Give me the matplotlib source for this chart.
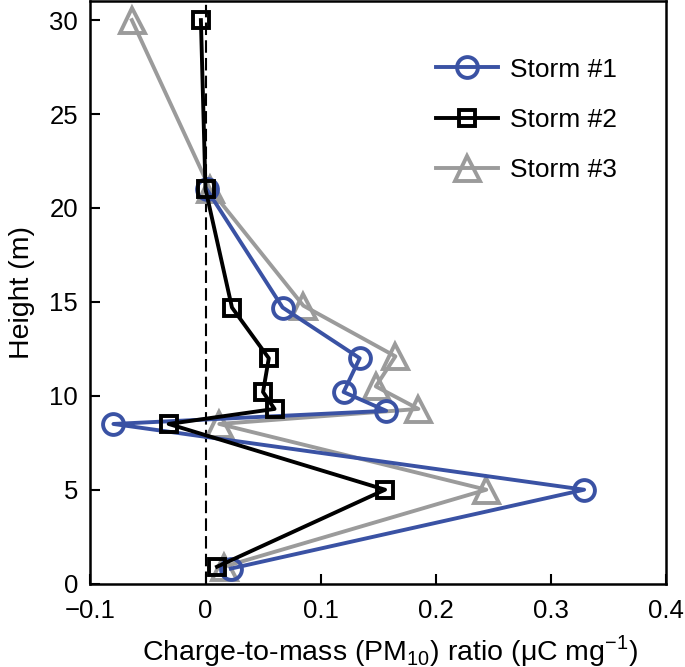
import matplotlib
matplotlib.use("Agg")
import matplotlib.pyplot as plt

plt.rcParams['font.family'] = ['Liberation Sans', 'DejaVu Sans']
plt.rcParams['mathtext.fontset'] = 'custom'
plt.rcParams['mathtext.rm'] = 'Liberation Sans'

# --- data ---
storm1_x = [0.022, 0.329, -0.080, 0.157, 0.120, 0.134, 0.067, 0.001]
storm1_h = [0.8, 5.0, 8.5, 9.2, 10.2, 12.0, 14.7, 21.0]

storm2_x = [0.010, 0.156, -0.032, 0.060, 0.050, 0.055, 0.023, 0.000, -0.004]
storm2_h = [0.9, 5.0, 8.5, 9.3, 10.2, 12.0, 14.7, 21.0, 30.0]

storm3_x = [0.016, 0.244, 0.012, 0.185, 0.148, 0.165, 0.085, 0.004, -0.064]
storm3_h = [0.9, 5.0, 8.5, 9.3, 10.5, 12.1, 14.8, 21.0, 30.0]

labels = ['Storm #1', 'Storm #2', 'Storm #3']
colors = ['#3a52a4', 'black', '#9b9b9b']

fig = plt.figure(figsize=(6.85, 6.67), dpi=100)
ax = fig.add_axes([0.132, 0.125, 0.840, 0.873])

ax.axvline(0, color='black', linestyle=(0, (6, 2.5)), linewidth=1.5, zorder=1)

ax.plot(storm1_x, storm1_h, '-o', color=colors[0], lw=2.8, ms=15, mew=2.8,
        mfc='none', label=labels[0], zorder=3)
ax.plot(storm2_x, storm2_h, '-s', color=colors[1], lw=2.8, ms=11, mew=2.8,
        mfc='none', label=labels[1], zorder=4)
ax.plot(storm3_x, storm3_h, '-^', color=colors[2], lw=2.8, ms=18, mew=2.8,
        mfc='none', label=labels[2], zorder=2)

ax.set_xlim(-0.1, 0.4)
ax.set_ylim(0, 31)
ax.set_xticks([-0.1, 0, 0.1, 0.2, 0.3, 0.4])
ax.set_xticklabels(['\u22120.1', '0', '0.1', '0.2', '0.3', '0.4'])
ax.set_yticks([0, 5, 10, 15, 20, 25, 30])
ax.tick_params(direction='in', length=7, width=1.5, labelsize=18.5)
ax.tick_params(axis='x', pad=11)
ax.tick_params(axis='y', pad=9)
for s in ax.spines.values():
    s.set_linewidth(1.8)

ax.set_xlabel('Charge-to-mass (PM$_{10}$) ratio (\u03bcC mg$^{\u22121}$)',
              fontsize=20.5, labelpad=7)
ax.xaxis.label.set_x(0.52)
ax.set_ylabel('Height (m)', fontsize=20.5, labelpad=10)

ax.legend(loc='upper right', frameon=False, fontsize=19, handlelength=2.35,
          handletextpad=0.45, labelspacing=1.0, bbox_to_anchor=(0.956, 0.944))

fig.savefig('out.png', dpi=100)
